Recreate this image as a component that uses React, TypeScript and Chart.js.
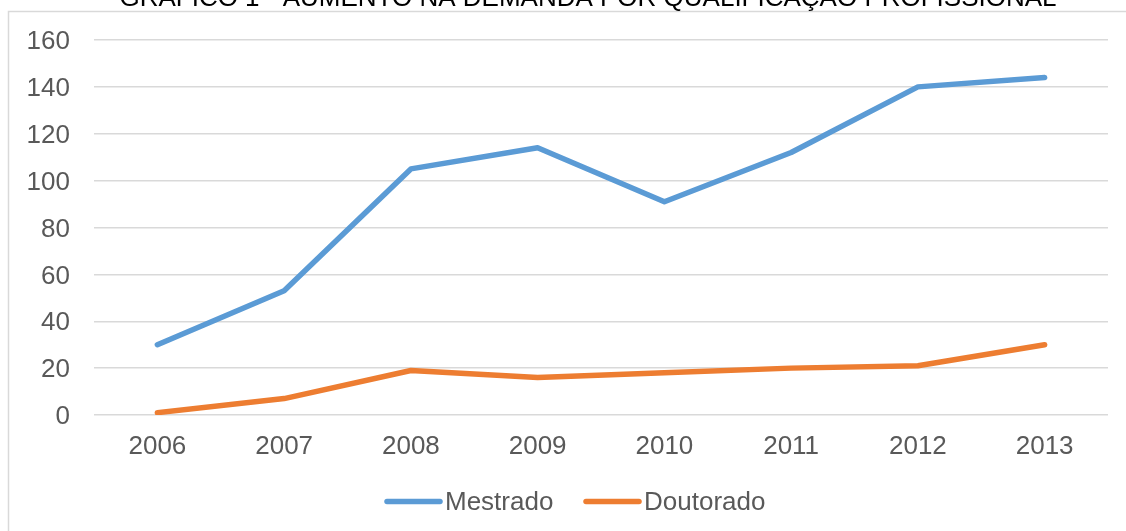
import React, { useEffect, useRef } from "react";
import { Chart, registerables } from "chart.js";

Chart.register(...registerables);

const categories: string[] = ["2006", "2007", "2008", "2009", "2010", "2011", "2012", "2013"];
const mestrado: number[] = [30, 53, 105, 114, 91, 112, 140, 144];
const doutorado: number[] = [1, 7, 19, 16, 18, 20, 21, 30];
const seriesNames: string[] = ["Mestrado", "Doutorado"];
const titleText = "GRÁFICO 1 - AUMENTO NA DEMANDA POR QUALIFICAÇÃO PROFISSIONAL";

const BLUE = "#5B9BD5";
const ORANGE = "#ED7D31";
const TEXT = "#595959";
const GRID = "#D9D9D9";
const FONT = "'Liberation Sans', Arial, sans-serif";

const decorPlugin = {
  id: "decor",
  afterDraw(chart: any) {
    const ctx = chart.ctx as CanvasRenderingContext2D;
    const W = chart.width;
    const H = chart.height;
    ctx.save();
    // chart border (partially visible)
    ctx.strokeStyle = GRID;
    ctx.lineWidth = 1.5;
    ctx.beginPath();
    ctx.moveTo(8.5, H + 5);
    ctx.lineTo(8.5, 11.5);
    ctx.lineTo(W + 5, 11.5);
    ctx.stroke();

    // title (cut off at the top)
    ctx.fillStyle = "#000000";
    ctx.font = `26px ${FONT}`;
    ctx.textAlign = "center";
    ctx.textBaseline = "alphabetic";
    ctx.fillText(titleText, 588, 6);

    // legend
    const colors = [BLUE, ORANGE];
    const starts = [387, 586];
    const ly = 501.5;
    ctx.font = `26px ${FONT}`;
    ctx.textAlign = "left";
    ctx.textBaseline = "middle";
    seriesNames.forEach((name, i) => {
      ctx.strokeStyle = colors[i];
      ctx.lineWidth = 5.5;
      ctx.lineCap = "round";
      ctx.beginPath();
      ctx.moveTo(starts[i], ly);
      ctx.lineTo(starts[i] + 53, ly);
      ctx.stroke();
      ctx.fillStyle = TEXT;
      ctx.fillText(name, starts[i] + 58, ly + 1);
    });
    ctx.restore();
  },
};

export default function App() {
  const ref = useRef<HTMLCanvasElement | null>(null);
  useEffect(() => {
    if (!ref.current) return;
    const chart = new Chart(ref.current, {
      type: "line",
      data: {
        labels: categories,
        datasets: [
          {
            label: seriesNames[0],
            data: mestrado,
            borderColor: BLUE,
            backgroundColor: BLUE,
            borderWidth: 5.5,
            pointRadius: 0,
            tension: 0,
            borderCapStyle: "round",
            borderJoinStyle: "round",
          },
          {
            label: seriesNames[1],
            data: doutorado,
            borderColor: ORANGE,
            backgroundColor: ORANGE,
            borderWidth: 5.5,
            pointRadius: 0,
            tension: 0,
            borderCapStyle: "round",
            borderJoinStyle: "round",
          },
        ],
      },
      options: {
        animation: false,
        responsive: false,
        devicePixelRatio: 1,
        layout: { padding: { left: 0, right: 18, top: 40, bottom: 0 } },
        plugins: {
          legend: { display: false },
          title: { display: false },
          tooltip: { enabled: false },
        },
        scales: {
          x: {
            type: "category",
            offset: true,
            grid: { display: false, drawTicks: false },
            border: { display: false },
            ticks: {
              color: TEXT,
              font: { family: FONT, size: 26 },
              padding: 16,
              maxRotation: 0,
            },
            afterFit: (s: any) => {
              s.height = 116;
            },
          },
          y: {
            min: 0,
            max: 160,
            grid: { color: GRID, lineWidth: 1.5, drawTicks: false },
            border: { display: false },
            ticks: {
              stepSize: 20,
              color: TEXT,
              font: { family: FONT, size: 26 },
              padding: 24,
              labelOffset: 2,
            },
            afterFit: (s: any) => {
              s.width = 94;
            },
          },
        },
      },
      plugins: [decorPlugin],
    });
    return () => chart.destroy();
  }, []);
  return (
    <div style={{ position: "fixed", left: 0, top: 0, width: 1126, height: 531, background: "#fff", overflow: "hidden" }}>
      <canvas ref={ref} width={1126} height={531} style={{ display: "block" }} />
    </div>
  );
}
